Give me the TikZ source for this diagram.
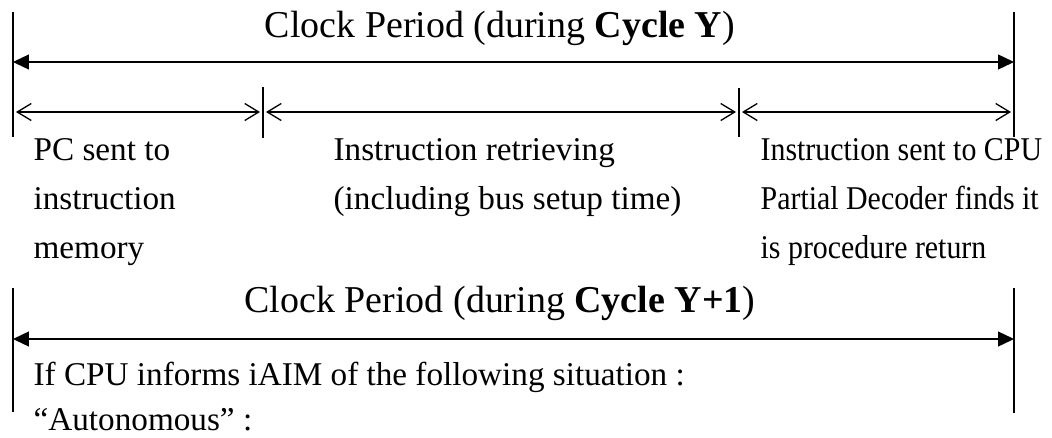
\documentclass[tikz,border=0pt]{standalone}
\usepackage{fontspec}
\setmainfont{Liberation Serif}
\newfontfamily\narrowfont[FakeStretch=0.9]{Liberation Serif}
\usetikzlibrary{arrows.meta}

\begin{document}
\begin{tikzpicture}[x=0.02cm, y=-0.02cm, line width=0.75pt,
    period/.style={{Triangle[length=0.32cm, width=0.3cm]}-{Triangle[length=0.32cm, width=0.3cm]}},
    phase/.style={{Straight Barb[length=0.28cm, width=0.34cm]}-{Straight Barb[length=0.28cm, width=0.34cm]}},
    title/.style={anchor=base, inner sep=0pt, font=\fontsize{21.6}{26}\selectfont},
    note/.style={anchor=base west, inner sep=0pt, align=left, font=\fontsize{18.9}{27.9}\selectfont}]
        \useasboundingbox (0,0) rectangle (1052,437);
        \def\Lx{13} \def\Ax{263} \def\Bx{739} \def\Rx{1014}

        % cycle Y
        \node[title] (T1) at (500,37) {Clock Period (during \textbf{Cycle Y})};
        \coordinate (L1t) at (\Lx,12);  \coordinate (L1b) at (\Lx,137);
        \coordinate (R1t) at (\Rx,12);  \coordinate (R1b) at (\Rx,137);
        \coordinate (At) at (\Ax,87);   \coordinate (Ab) at (\Ax,138);
        \coordinate (Bt) at (\Bx,88);   \coordinate (Bb) at (\Bx,137);
        \draw (L1t) -- (L1b);
        \draw (R1t) -- (R1b);
        \draw (At) -- (Ab);
        \draw (Bt) -- (Bb);
        \coordinate (P1l) at (\Lx,62);  \coordinate (P1r) at (\Rx,62);
        \draw[period] (P1l) -- (P1r);

        \coordinate (S1) at (16,112);  \coordinate (E1) at (260,112);
        \coordinate (S2) at (266,112); \coordinate (E2) at (736,112);
        \coordinate (S3) at (742,112); \coordinate (E3) at (1011,112);
        \draw[phase] (S1) -- (E1);
        \draw[phase] (S2) -- (E2);
        \draw[phase] (S3) -- (E3);

        \node[note] (PC) at (33,258.4) {PC sent to\\instruction\\memory};
        \node[note] (IR) at (333,209.2) {Instruction retrieving\\(including bus setup time)};
        \node[note, font=\narrowfont\fontsize{18.9}{27.9}\selectfont] (IS) at (760,258.4) {Instruction sent to CPU\\Partial Decoder finds it\\is procedure return};

        % cycle Y+1
        \node[title] (T2) at (500,312) {Clock Period (during \textbf{Cycle Y+1})};
        \coordinate (L2t) at (\Lx,288); \coordinate (L2b) at (\Lx,412);
        \coordinate (R2t) at (\Rx,288); \coordinate (R2b) at (\Rx,413);
        \draw (L2t) -- (L2b);
        \draw (R2t) -- (R2b);
        \coordinate (P2l) at (\Lx,339); \coordinate (P2r) at (\Rx,339);
        \draw[period] (P2l) -- (P2r);

        \node[note, font=\fontsize{18.9}{25.6}\selectfont] (IF) at (33,430) {If CPU informs iAIM of the following situation :\\``Autonomous'' :};
\end{tikzpicture}
\end{document}
